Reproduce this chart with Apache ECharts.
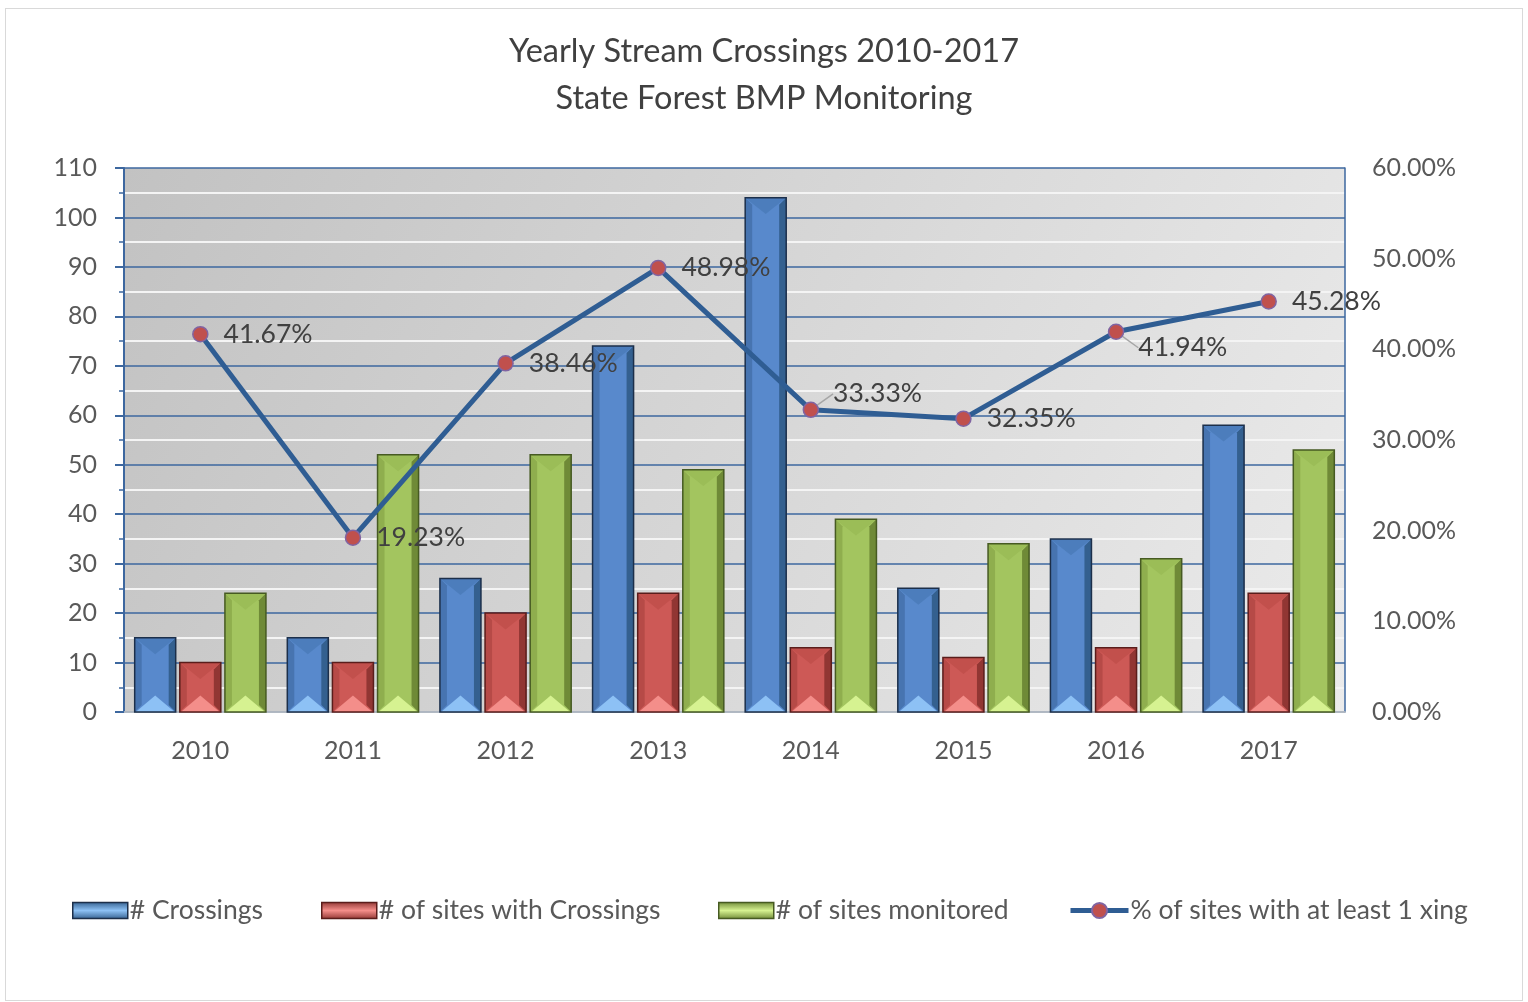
<!DOCTYPE html>
<html>
<head>
<meta charset="utf-8">
<script src="https://cdn.jsdelivr.net/npm/echarts@6/dist/echarts.min.js"></script>
<style>
  html, body { margin: 0; padding: 0; background: #fff; }
  #frame { position: absolute; left: 5px; top: 8px; width: 1516px; height: 991px; border: 1px solid #d9d9d9; }
  #chart { position: absolute; left: 0; top: 0; width: 1528px; height: 1002px; }
</style>
</head>
<body>
<div id="frame"></div>
<div id="chart"></div>
<script>
// data
const years = ['2010', '2011', '2012', '2013', '2014', '2015', '2016', '2017']
const crossings = [15, 15, 27, 74, 104, 25, 35, 58]
const sitesWithCrossings = [10, 10, 20, 24, 13, 11, 13, 24]
const sitesMonitored = [24, 52, 52, 49, 39, 34, 31, 53]
const pctWithXing = [41.67, 19.23, 38.46, 48.98, 33.33, 32.35, 41.94, 45.28]

const names = ['# Crossings', '# of sites with Crossings', '# of sites monitored', '% of sites with at least 1 xing']
const FONT = 'Lato'

// bevel colours: main, left, right, top, bottom, border
const palettes = [
  { main: '#5889cc', left: '#4774b0', right: '#34608f', top: '#4a7bb8', bottom: '#8dc1f5', border: '#1c2f4a' },
  { main: '#cd5956', left: '#b64a47', right: '#913633', top: '#bf4d4a', bottom: '#f48e8a', border: '#5a1d1b' },
  { main: '#a3c55f', left: '#8fae4e', right: '#6f8a37', top: '#98ba55', bottom: '#d6f291', border: '#465a22' }
]

const GROUP = 0.86 // share of the category used by the three bars
const GAP = 0.1 // gap between bars, share of bar width

function bevelBar (idx) {
  const pal = palettes[idx]
  return function (params, api) {
    const cat = api.value(0)
    const base = api.coord([cat, 0])
    const top = api.coord([cat, api.value(1)])
    const cw = api.size([1, 0])[0]
    const groupW = cw * GROUP
    const bw = groupW / (3 + 2 * GAP)
    const x0 = base[0] - groupW / 2 + idx * bw * (1 + GAP)
    const x1 = x0 + bw
    const y0 = top[1]
    const y1 = base[1]
    const h = y1 - y0
    const d = Math.min(7, h / 2)
    const xm = (x0 + x1) / 2
    const tri = Math.min(bw * 0.4, h / 2)
    return {
      type: 'group',
      children: [
        { type: 'rect', shape: { x: x0, y: y0, width: bw, height: h }, style: { fill: pal.main } },
        { type: 'polygon', shape: { points: [[x0, y0], [x0 + d, y0 + d], [x0 + d, y1 - d], [x0, y1]] }, style: { fill: pal.left } },
        { type: 'polygon', shape: { points: [[x1, y0], [x1 - d, y0 + d], [x1 - d, y1 - d], [x1, y1]] }, style: { fill: pal.right } },
        { type: 'polygon', shape: { points: [[x0, y0], [x1, y0], [xm, y0 + tri]] }, style: { fill: pal.top, opacity: 0.8 } },
        { type: 'polygon', shape: { points: [[x0 + 1, y1], [x1 - 1, y1], [xm, y1 - tri]] }, style: { fill: pal.bottom } },
        { type: 'rect', shape: { x: x0, y: y0, width: bw, height: h }, style: { fill: 'none', stroke: pal.border, lineWidth: 1.5 } }
      ]
    }
  }
}

function barSeries (idx, data) {
  const pal = palettes[idx]
  return {
    name: names[idx],
    type: 'custom',
    renderItem: bevelBar(idx),
    encode: { x: 0, y: 1 },
    itemStyle: { color: pal.main, borderColor: pal.border, borderWidth: 1.5 },
    data: data.map(function (v, i) { return [i, v] })
  }
}

function oneLegend (idx, left) {
  const isLine = idx === 3
  const leg = {
    data: [names[idx]],
    left: left,
    top: 892,
    itemWidth: isLine ? 58 : 55,
    itemHeight: isLine ? 19 : 16,
    selectedMode: false,
    textStyle: { fontFamily: FONT, fontSize: 26.5, color: '#595959', padding: [0, 0, 0, -3] }
  }
  if (isLine) {
    leg.lineStyle = { width: 5, color: '#2f5d93' }
  } else {
    const pal = palettes[idx]
    leg.icon = 'rect'
    leg.itemStyle = {
      color: new echarts.graphic.LinearGradient(0, 0, 0, 1, [
        { offset: 0, color: pal.right },
        { offset: 0.5, color: pal.bottom },
        { offset: 1, color: pal.right }
      ]),
      borderColor: pal.border,
      borderWidth: 1.5
    }
  }
  return leg
}

const chart = echarts.init(document.getElementById('chart'))
chart.setOption({
  animation: false,
  textStyle: { fontFamily: FONT },
  title: {
    text: 'Yearly Stream Crossings 2010-2017\nState Forest BMP Monitoring',
    left: 'center',
    top: 23,
    textStyle: { fontFamily: FONT, fontSize: 32.5, fontWeight: 'normal', color: '#404040', lineHeight: 47 }
  },
  legend: [
    oneLegend(0, 67),
    oneLegend(1, 316),
    oneLegend(2, 713),
    oneLegend(3, 1063)
  ],
  grid: {
    left: 124,
    right: 183,
    top: 168,
    bottom: 290,
    show: true,
    borderWidth: 0,
    backgroundColor: new echarts.graphic.LinearGradient(0, 0, 1, 1, [
      { offset: 0, color: '#c2c2c2' },
      { offset: 1, color: '#ebebeb' }
    ])
  },
  xAxis: {
    type: 'category',
    data: years,
    axisLine: { lineStyle: { color: '#c8c8c8', width: 1.5 } },
    axisTick: { show: false },
    axisLabel: { fontSize: 25, color: '#595959', margin: 26 }
  },
  yAxis: [
    {
      type: 'value',
      min: 0,
      max: 110,
      interval: 10,
      axisLine: { show: true, lineStyle: { color: '#3d679f', width: 2 } },
      axisTick: { show: true, length: 9, lineStyle: { color: '#3d679f', width: 2 } },
      minorTick: { show: true, splitNumber: 2, length: 5, lineStyle: { color: '#3d679f', width: 1.5 } },
      axisLabel: { fontSize: 25, color: '#595959', margin: 27 },
      splitLine: { lineStyle: { color: '#3d679f', width: 1.5 } },
      minorSplitLine: { show: true, lineStyle: { color: '#f4f4f4', width: 2 } }
    },
    {
      type: 'value',
      min: 0,
      max: 60,
      interval: 10,
      position: 'right',
      axisLine: { show: true, lineStyle: { color: '#3d679f', width: 1.5 } },
      axisTick: { show: false },
      splitLine: { show: false },
      axisLabel: {
        fontSize: 25,
        color: '#595959',
        margin: 27,
        formatter: function (v) { return v.toFixed(2) + '%' }
      }
    }
  ],
  series: [
    barSeries(0, crossings),
    barSeries(1, sitesWithCrossings),
    barSeries(2, sitesMonitored),
    {
      name: names[3],
      type: 'line',
      yAxisIndex: 1,
      data: pctWithXing.map(function (v, i) {
        return { value: v, labelLine: { show: i === 4 || i === 6 } }
      }),
      z: 5,
      symbol: 'circle',
      symbolSize: 15,
      lineStyle: { color: '#2f5d93', width: 5 },
      itemStyle: { color: '#c0504d', borderColor: '#8064a2', borderWidth: 1.5 },
      label: {
        show: true,
        position: 'right',
        distance: 15,
        fontSize: 26.5,
        color: '#404040',
        formatter: function (p) { return p.value.toFixed(2) + '%' }
      },
      labelLayout: function (params) {
        if (params.dataIndex === 4) return { dx: -1, dy: -16 }
        if (params.dataIndex === 6) return { dx: -1, dy: 16 }
        return {}
      },
      labelLine: { show: false, lineStyle: { color: '#a6a6a6', width: 1.5 } }
    }
  ]
})
</script>
</body>
</html>
